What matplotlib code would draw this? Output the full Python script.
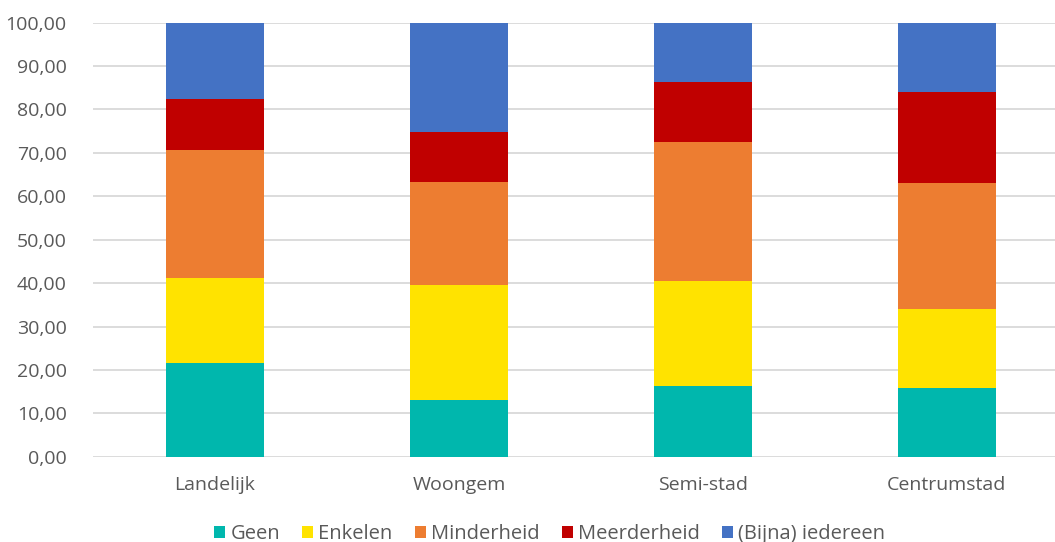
import numpy as np
import matplotlib.pyplot as plt
from matplotlib.ticker import FuncFormatter

categories = ["Landelijk", "Woongem", "Semi-stad", "Centrumstad"]
series_names = ["Geen", "Enkelen", "Minderheid", "Meerderheid", "(Bijna) iedereen"]
geen = [21.6, 13.0, 16.3, 15.9]
enkelen = [19.5, 26.5, 24.2, 18.2]
minderheid = [29.5, 23.7, 32.0, 29.0]
meerderheid = [11.8, 11.7, 13.8, 21.0]
iedereen = [17.6, 25.1, 13.7, 15.9]
colors = ["#00b7ad", "#ffe300", "#ed7d31", "#c00000", "#4472c4"]

plt.rcParams['font.family'] = ['Open Sans', 'DejaVu Sans']
text_color = "#595959"

fig = plt.figure(figsize=(10.55, 5.42), dpi=100)
ax = fig.add_axes([93 / 1055, 1 - 456.7 / 542, (1055 - 93) / 1055, (456.7 - 22.7) / 542])

x = np.arange(len(categories))
bottom = np.zeros(len(categories))
for name, vals, col in zip(series_names, [geen, enkelen, minderheid, meerderheid, iedereen], colors):
    ax.bar(x, vals, 0.4, bottom=bottom, color=col, label=name, zorder=3)
    bottom += np.array(vals)

ax.set_ylim(0, 100)
ax.set_xlim(-0.5, 3.443)
ax.set_yticks(np.arange(0, 101, 10))
ax.yaxis.set_major_formatter(FuncFormatter(lambda v, p: f"{v:.2f}".replace(".", ",")))
ax.set_xticks(x)
ax.set_xticklabels(categories)
ax.grid(axis='y', color="#d9d9d9", linewidth=1.3, zorder=0)
for s in ax.spines.values():
    s.set_visible(False)
ax.tick_params(axis='both', length=0, colors=text_color, labelsize=14)
ax.tick_params(axis='y', pad=19)
ax.tick_params(axis='x', pad=14)

ax.legend(loc='center', bbox_to_anchor=(549.5 / 1055, 1 - 534 / 542), bbox_transform=fig.transFigure,
          ncol=5, frameon=False, fontsize=14.5, handlelength=0.55, handleheight=0.55,
          handletextpad=0.25, columnspacing=1.1, labelcolor=text_color)

fig.savefig("out.png", dpi=100)
